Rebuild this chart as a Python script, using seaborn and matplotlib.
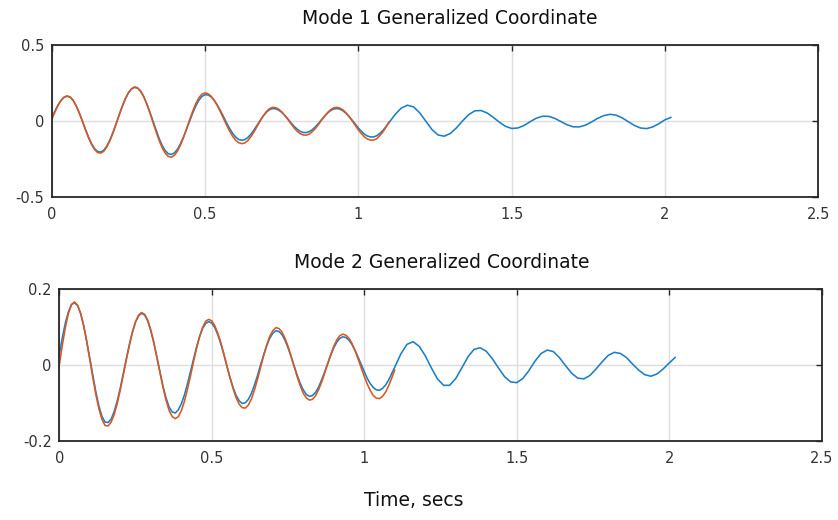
import matplotlib
matplotlib.use("Agg")
import matplotlib.pyplot as plt
import seaborn as sns

sns.set_style("white")
plt.rcParams['font.family'] = ['DejaVu Sans']

# sample times (secs): 0.01 s apart while both traces run, 0.02 s after that
time = [0.00, 0.01, 0.02, 0.03, 0.04, 0.05, 0.06, 0.07, 0.08, 0.09,
        0.10, 0.11, 0.12, 0.13, 0.14, 0.15, 0.16, 0.17, 0.18, 0.19,
        0.20, 0.21, 0.22, 0.23, 0.24, 0.25, 0.26, 0.27, 0.28, 0.29,
        0.30, 0.31, 0.32, 0.33, 0.34, 0.35, 0.36, 0.37, 0.38, 0.39,
        0.40, 0.41, 0.42, 0.43, 0.44, 0.45, 0.46, 0.47, 0.48, 0.49,
        0.50, 0.51, 0.52, 0.53, 0.54, 0.55, 0.56, 0.57, 0.58, 0.59,
        0.60, 0.61, 0.62, 0.63, 0.64, 0.65, 0.66, 0.67, 0.68, 0.69,
        0.70, 0.71, 0.72, 0.73, 0.74, 0.75, 0.76, 0.77, 0.78, 0.79,
        0.80, 0.81, 0.82, 0.83, 0.84, 0.85, 0.86, 0.87, 0.88, 0.89,
        0.90, 0.91, 0.92, 0.93, 0.94, 0.95, 0.96, 0.97, 0.98, 0.99,
        1.00, 1.01, 1.02, 1.03, 1.04, 1.05, 1.06, 1.07, 1.08, 1.09,
        1.10,
        1.12, 1.14, 1.16, 1.18, 1.20, 1.22, 1.24, 1.26, 1.28, 1.30,
        1.32, 1.34, 1.36, 1.38, 1.40, 1.42, 1.44, 1.46, 1.48, 1.50,
        1.52, 1.54, 1.56, 1.58, 1.60, 1.62, 1.64, 1.66, 1.68, 1.70,
        1.72, 1.74, 1.76, 1.78, 1.80, 1.82, 1.84, 1.86, 1.88, 1.90,
        1.92, 1.94, 1.96, 1.98, 2.00, 2.02]

# Mode 1 - blue trace (full run)
mode1_blue = [0.019, 0.063, 0.103, 0.135, 0.155, 0.163, 0.157, 0.135, 0.099, 0.053,
              0.001, -0.054, -0.105, -0.149, -0.182, -0.201, -0.204, -0.192, -0.164, -0.124,
              -0.074, -0.018, 0.040, 0.096, 0.145, 0.184, 0.210, 0.221, 0.216, 0.195,
              0.161, 0.114, 0.059, 0.001, -0.059, -0.113, -0.160, -0.194, -0.215, -0.220,
              -0.210, -0.186, -0.149, -0.104, -0.053, 0.001, 0.053, 0.099, 0.136, 0.162,
              0.173, 0.171, 0.159, 0.136, 0.106, 0.069, 0.030, -0.011, -0.048, -0.081,
              -0.106, -0.122, -0.127, -0.122, -0.108, -0.086, -0.058, -0.027, 0.004, 0.033,
              0.057, 0.074, 0.082, 0.080, 0.072, 0.057, 0.037, 0.014, -0.011, -0.034,
              -0.053, -0.068, -0.076, -0.076, -0.070, -0.057, -0.038, -0.016, 0.009, 0.032,
              0.053, 0.069, 0.079, 0.082, 0.078, 0.067, 0.050, 0.029, 0.005, -0.021,
              -0.046, -0.068, -0.087, -0.099, -0.105, -0.105, -0.097, -0.082, -0.062, -0.038,
              -0.011,
              0.043, 0.085, 0.104, 0.093, 0.054, -0.001, -0.056, -0.092, -0.100, -0.082,
              -0.045, 0.001, 0.042, 0.067, 0.069, 0.053, 0.024, -0.008, -0.035, -0.049,
              -0.046, -0.030, -0.005, 0.018, 0.031, 0.031, 0.018, -0.003, -0.024, -0.038,
              -0.039, -0.028, -0.007, 0.017, 0.035, 0.044, 0.039, 0.021, -0.004, -0.029,
              -0.046, -0.050, -0.039, -0.018, 0.008, 0.024]

# Mode 1 - orange trace (stops at 1.10 s)
mode1_orange = [0.010, 0.057, 0.100, 0.134, 0.157, 0.165, 0.158, 0.136, 0.099, 0.052,
                -0.001, -0.057, -0.110, -0.155, -0.188, -0.208, -0.211, -0.199, -0.170, -0.129,
                -0.078, -0.021, 0.039, 0.096, 0.146, 0.186, 0.212, 0.224, 0.219, 0.197,
                0.161, 0.112, 0.055, -0.007, -0.069, -0.126, -0.175, -0.211, -0.233, -0.238,
                -0.226, -0.199, -0.158, -0.108, -0.050, 0.009, 0.065, 0.115, 0.153, 0.177,
                0.185, 0.179, 0.163, 0.136, 0.102, 0.061, 0.018, -0.025, -0.066, -0.100,
                -0.127, -0.143, -0.149, -0.144, -0.128, -0.102, -0.071, -0.035, 0.001, 0.034,
                0.062, 0.081, 0.090, 0.088, 0.078, 0.061, 0.037, 0.011, -0.017, -0.044,
                -0.067, -0.083, -0.092, -0.093, -0.086, -0.070, -0.049, -0.023, 0.005, 0.032,
                0.056, 0.075, 0.087, 0.090, 0.085, 0.073, 0.053, 0.029, 0.001, -0.029,
                -0.058, -0.083, -0.105, -0.119, -0.126, -0.125, -0.117, -0.096, -0.072, -0.040,
                -0.005]

# Mode 2 - blue trace
mode2_blue = [0.028, 0.072, 0.111, 0.140, 0.159, 0.164, 0.156, 0.135, 0.103, 0.062,
              0.017, -0.029, -0.072, -0.109, -0.136, -0.151, -0.152, -0.143, -0.123, -0.095,
              -0.061, -0.022, 0.017, 0.054, 0.087, 0.113, 0.129, 0.136, 0.131, 0.116,
              0.090, 0.058, 0.020, -0.019, -0.056, -0.087, -0.111, -0.124, -0.127, -0.119,
              -0.103, -0.080, -0.051, -0.018, 0.015, 0.047, 0.074, 0.096, 0.109, 0.114,
              0.110, 0.098, 0.079, 0.054, 0.026, -0.005, -0.034, -0.060, -0.081, -0.095,
              -0.102, -0.100, -0.091, -0.075, -0.053, -0.028, 0.000, 0.026, 0.050, 0.070,
              0.083, 0.090, 0.088, 0.080, 0.065, 0.045, 0.022, -0.003, -0.027, -0.049,
              -0.066, -0.078, -0.083, -0.081, -0.073, -0.059, -0.040, -0.019, 0.003, 0.025,
              0.045, 0.060, 0.070, 0.074, 0.072, 0.065, 0.053, 0.038, 0.020, 0.001,
              -0.018, -0.036, -0.050, -0.060, -0.066, -0.067, -0.062, -0.053, -0.040, -0.023,
              -0.006,
              0.029, 0.054, 0.061, 0.049, 0.024, -0.008, -0.037, -0.054, -0.054, -0.036,
              -0.008, 0.021, 0.041, 0.045, 0.036, 0.016, -0.008, -0.031, -0.045, -0.047,
              -0.036, -0.015, 0.010, 0.030, 0.039, 0.035, 0.019, -0.002, -0.022, -0.035,
              -0.037, -0.028, -0.011, 0.008, 0.025, 0.033, 0.030, 0.019, 0.002, -0.014,
              -0.026, -0.030, -0.024, -0.011, 0.005, 0.020]

# Mode 2 - orange trace
mode2_orange = [0.000, 0.052, 0.099, 0.136, 0.159, 0.166, 0.157, 0.136, 0.103, 0.061,
                0.014, -0.034, -0.079, -0.116, -0.144, -0.160, -0.161, -0.151, -0.131, -0.102,
                -0.066, -0.026, 0.014, 0.053, 0.087, 0.114, 0.131, 0.138, 0.133, 0.118,
                0.092, 0.059, 0.020, -0.020, -0.059, -0.093, -0.120, -0.136, -0.142, -0.137,
                -0.121, -0.097, -0.065, -0.030, 0.008, 0.043, 0.075, 0.099, 0.115, 0.120,
                0.116, 0.103, 0.083, 0.058, 0.028, -0.004, -0.035, -0.063, -0.087, -0.104,
                -0.113, -0.114, -0.106, -0.090, -0.066, -0.038, -0.007, 0.024, 0.052, 0.075,
                0.090, 0.098, 0.096, 0.087, 0.070, 0.049, 0.023, -0.004, -0.031, -0.055,
                -0.075, -0.087, -0.093, -0.091, -0.082, -0.066, -0.046, -0.022, 0.003, 0.027,
                0.049, 0.066, 0.077, 0.081, 0.078, 0.070, 0.056, 0.037, 0.015, -0.008,
                -0.030, -0.051, -0.068, -0.081, -0.088, -0.089, -0.083, -0.072, -0.055, -0.035,
                -0.013]

x_ticks = [0, 0.5, 1, 1.5, 2, 2.5]
x_labels = ['0', '0.5', '1', '1.5', '2', '2.5']
y1_ticks = [-0.5, 0, 0.5]
y1_labels = ['-0.5', '0', '0.5']
y2_ticks = [-0.2, 0, 0.2]
y2_labels = ['-0.2', '0', '0.2']

BLUE = '#1a7fc6'
ORANGE = '#db5720'
W, H = 838, 520

fig = plt.figure(figsize=(W / 100, H / 100), dpi=100)
ax1 = fig.add_axes([51.7 / W, 1 - 197 / H, 766.6 / W, 152 / H])
ax2 = fig.add_axes([59.3 / W, 1 - 440.7 / H, 762.4 / W, 151.7 / H])


def style_axes(ax, yticks, ylabels, ylim):
    ax.set_xlim(0, 2.5)
    ax.set_ylim(*ylim)
    ax.set_xticks(x_ticks)
    ax.set_xticklabels(x_labels)
    ax.set_yticks(yticks)
    ax.set_yticklabels(ylabels)
    ax.grid(True, color='#dedede', linewidth=1.0)
    ax.set_axisbelow(True)
    for s in ax.spines.values():
        s.set_color('#262626')
        s.set_linewidth(1.3)
    ax.tick_params(direction='in', top=True, right=True, length=4, width=1,
                   color='#262626', labelcolor='#333333', labelsize=10.5)
    ax.tick_params(axis='x', pad=7.5)
    ax.tick_params(axis='y', pad=5.5)
    ax.set_xlabel('')
    ax.set_ylabel('')


line_kw = dict(linewidth=1.15, estimator=None, sort=False,
               solid_joinstyle='round', solid_capstyle='round')

n1 = len(mode1_orange)
sns.lineplot(x=time, y=mode1_blue, ax=ax1, color=BLUE, **line_kw)
sns.lineplot(x=time[:n1], y=mode1_orange, ax=ax1, color=ORANGE, **line_kw)
style_axes(ax1, y1_ticks, y1_labels, (-0.5, 0.5))

n2 = len(mode2_orange)
sns.lineplot(x=time, y=mode2_blue, ax=ax2, color=BLUE, **line_kw)
sns.lineplot(x=time[:n2], y=mode2_orange, ax=ax2, color=ORANGE, **line_kw)
style_axes(ax2, y2_ticks, y2_labels, (-0.2, 0.2))

fig.text(450 / W, 1 - 18 / H, 'Mode 1 Generalized Coordinate', ha='center', va='center',
         fontsize=13.5, color='#111111')
fig.text(442 / W, 1 - 263 / H, 'Mode 2 Generalized Coordinate', ha='center', va='center',
         fontsize=13.5, color='#111111')
fig.text(414 / W, 1 - 500 / H, 'Time, secs', ha='center', va='center',
         fontsize=13.5, color='#111111')

fig.savefig('out.png', dpi=100)
plt.close(fig)
